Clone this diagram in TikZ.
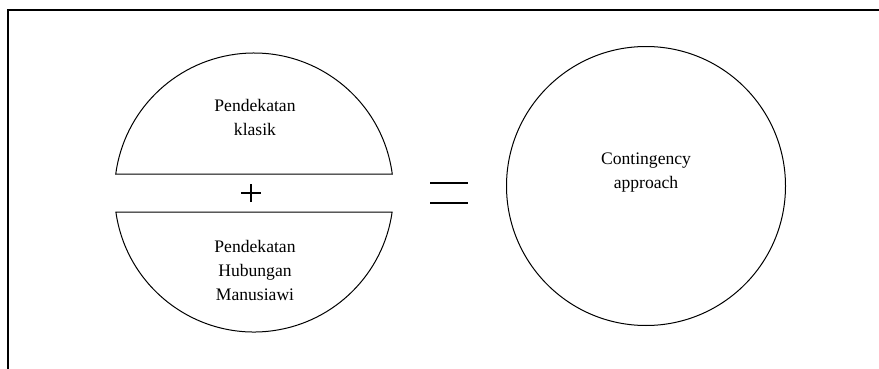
\documentclass[tikz,border=0pt]{standalone}
\usepackage{fontspec}
\setmainfont{Liberation Serif}
\begin{document}
\begin{tikzpicture}[x=1pt,y=1pt,
  shape line/.style={line width=1pt},
  frame line/.style={line width=1.6pt},
  sign line/.style={line width=1.6pt},
  label text/.style={align=center,font=\fontsize{17.6}{24}\selectfont,inner sep=0pt}]
\useasboundingbox (0,0) rectangle (879,368);
% outer frame (open at right and bottom, cut by the page)
\draw[frame line] (8,-5) -- (8,358) -- (885,358);
% left circle, cut into two segments
\coordinate (lc) at (254,175.5);
\draw[shape line] (lc) ++(7.62:139.5) arc[start angle=7.62,end angle=172.38,radius=139.5] -- cycle;
\draw[shape line] (lc) ++(188.04:139.5) arc[start angle=188.04,end angle=351.96,radius=139.5] -- cycle;
\node[label text] (klasik) at (255,251) {Pendekatan\\klasik};
\node[label text] (hm) at (255,98) {Pendekatan\\Hubungan\\Manusiawi};
% plus
\draw[sign line] (241,175) -- (261,175) (251,166) -- (251,184);
% equals
\draw[sign line] (430,185) -- (468,185) (430,165) -- (468,165);
% right circle
\node[shape line,draw,circle,minimum size=279pt,inner sep=0pt] (cont) at (646,182) {};
\node[label text] (ctext) at (646,195) {Contingency\\approach};
\end{tikzpicture}
\end{document}
